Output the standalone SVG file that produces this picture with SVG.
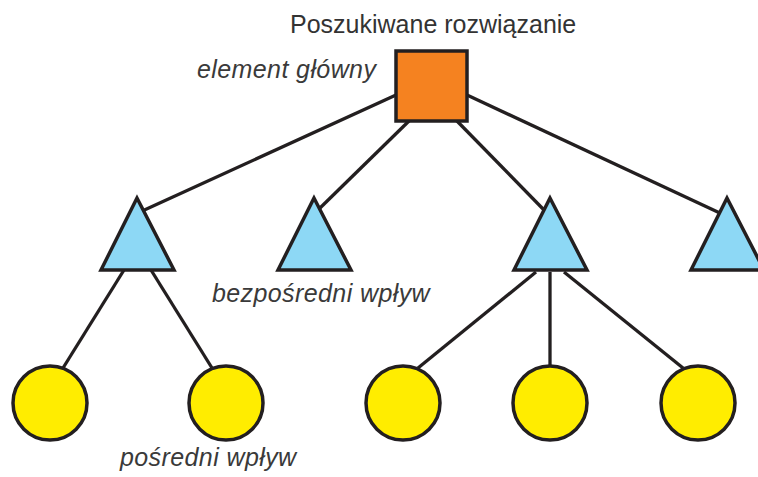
<svg xmlns="http://www.w3.org/2000/svg" width="758" height="477" viewBox="0 0 758 477">
<style>
.edge{stroke:#231f20;stroke-width:3.3;fill:none;stroke-linecap:butt}
.sq{fill:#f58220;stroke:#231f20;stroke-width:3.5}
.tri{fill:#8dd8f5;stroke:#231f20;stroke-width:3.5;stroke-linejoin:miter}
.cir{fill:#ffed00;stroke:#231f20;stroke-width:3.5}
.title{font-family:"Liberation Sans",Arial,sans-serif;font-size:25px;fill:#333}
.lbl{font-family:"Liberation Sans",Arial,sans-serif;font-size:25px;font-style:italic;fill:#3a3a3a;letter-spacing:0.4px}
</style>
<rect width="758" height="477" fill="#fff"/>
<g id="connectors">
<line class="edge" x1="396" y1="95" x2="140" y2="212"/>
<line class="edge" x1="410" y1="120" x2="320" y2="208"/>
<line class="edge" x1="456" y1="120" x2="545" y2="211"/>
<line class="edge" x1="467" y1="95" x2="722" y2="214"/>
<line class="edge" x1="124" y1="270" x2="63" y2="368"/>
<line class="edge" x1="151" y1="270" x2="212" y2="368"/>
<line class="edge" x1="536" y1="272" x2="418" y2="368"/>
<line class="edge" x1="550" y1="272" x2="550" y2="367"/>
<line class="edge" x1="564" y1="272" x2="683" y2="368"/>
</g>
<g id="root">
<rect class="sq" x="396" y="51" width="71" height="70"/>
</g>
<g id="t1"><polygon class="tri" points="137,198 101,270 174,270"/></g>
<g id="t2"><polygon class="tri" points="314,198 278,270 351,270"/></g>
<g id="t3"><polygon class="tri" points="550,198 514,270 587,270"/></g>
<g id="t4"><polygon class="tri" points="727,198 691,270 764,270"/></g>
<g id="c1"><circle class="cir" cx="50" cy="403" r="37"/></g>
<g id="c2"><circle class="cir" cx="226" cy="403" r="37"/></g>
<g id="c3"><circle class="cir" cx="403" cy="403" r="37"/></g>
<g id="c4"><circle class="cir" cx="550" cy="403" r="37"/></g>
<g id="c5"><circle class="cir" cx="698" cy="403" r="37"/></g>
<g id="labels">
<text class="title" x="290" y="33">Poszukiwane rozwiązanie</text>
<text class="lbl" x="197" y="78">element główny</text>
<text class="lbl" x="212" y="302">bezpośredni wpływ</text>
<text class="lbl" x="120" y="466">pośredni wpływ</text>
</g>
</svg>
